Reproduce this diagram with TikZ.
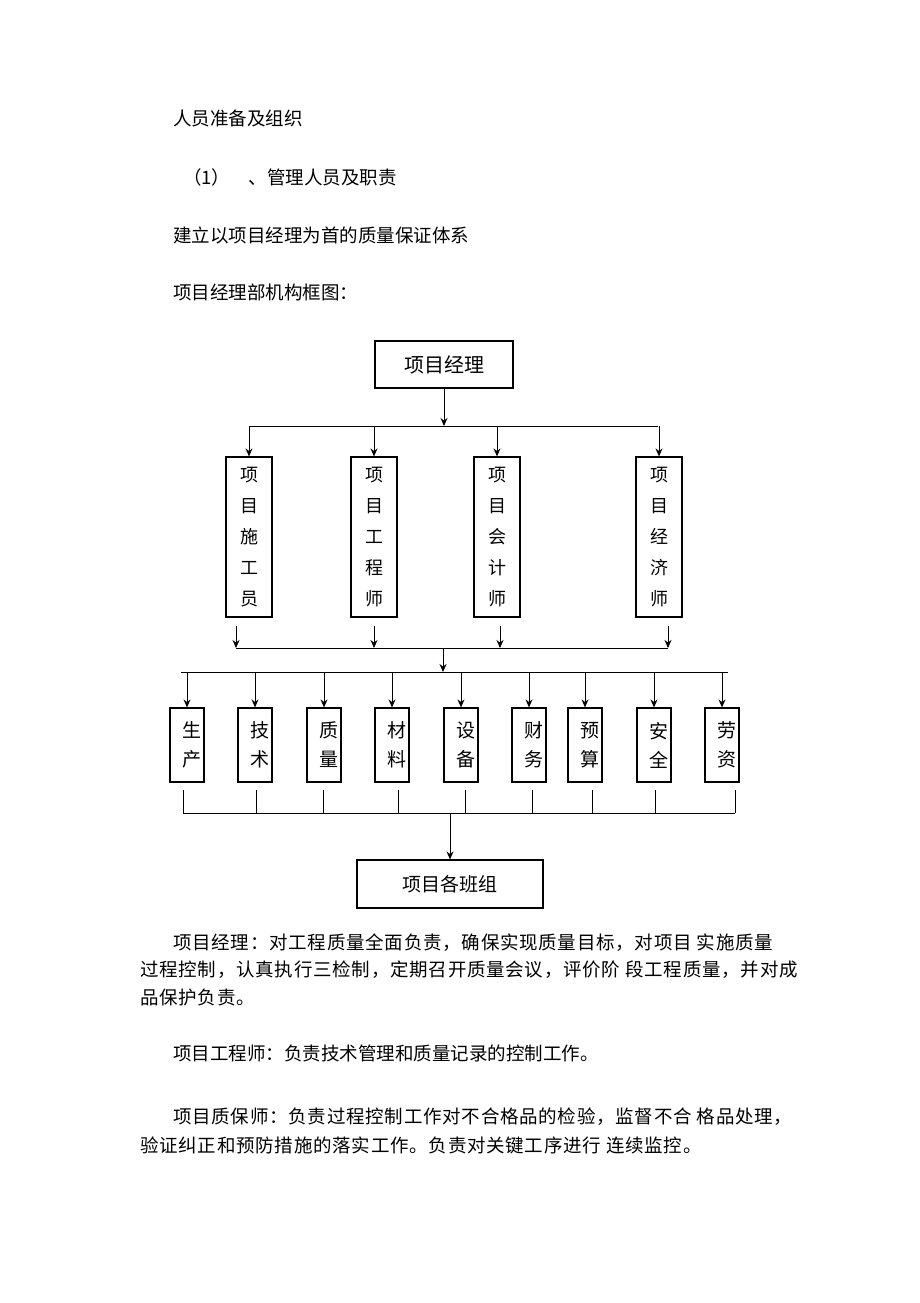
\documentclass[tikz,border=0pt]{standalone}
\usepackage{fontspec}
\setmainfont{Noto Sans CJK SC}
\newfontfamily\spaced[LetterSpace=4]{Noto Sans CJK SC}
\usetikzlibrary{arrows.meta}
\begin{document}
\begin{tikzpicture}[x=1pt,y=-1pt,
  box/.style={draw,line width=1.2pt,inner sep=0pt},
  con/.style={line width=1pt},
  arr/.style={con,-{Stealth[length=8pt,width=7pt]}},
  txt/.style={anchor=west,inner sep=0pt,font=\fontsize{18.5}{18.5}\selectfont},
  ptxt/.style={anchor=west,inner sep=0pt,font=\spaced\fontsize{18.5}{18.5}\selectfont},
  btxt/.style={font=\fontsize{18}{24}\selectfont,align=center}]
\useasboundingbox (0,0) rectangle (920,1303);
\node[txt] (t1) at (173,118) {人员准备及组织};
\node[txt] (t2) at (183,177) {（1）\quad 、管理人员及职责};
\node[txt] (t3) at (173,235) {建立以项目经理为首的质量保证体系};
\node[txt] (t4) at (173,292) {项目经理部机构框图：};
% top
\node[box,minimum width=138pt,minimum height=47pt,font=\fontsize{20}{20}\selectfont] (pm) at (444,364.5) {项目经理};
\coordinate (b1) at (444,426);
\draw[con] (250,426) -- (658,426);
\draw[arr] (pm.south) -- (b1);
\foreach \n/\x/\t in {a/249/项\\目\\施\\工\\员, b/374/项\\目\\工\\程\\师, c/497/项\\目\\会\\计\\师, d/659/项\\目\\经\\济\\师}{
  \node[box,minimum width=46pt,minimum height=160pt,btxt,font=\fontsize{18}{31}\selectfont] (\n) at (\x,537) {\t};
  \draw[arr] (\x,426) -- (\n.north);
}
\foreach \n/\x in {a/236,b/374,c/500,d/668}{
  \coordinate (\n u) at (\x,626);
  \draw[arr] (\n u) -- (\x,648);
}
\draw[con] (236,648) -- (668,648);
\coordinate (m1) at (443,648);
\coordinate (m2) at (443,672);
\draw[arr] (m1) -- (m2);
\draw[con] (181,672) -- (728,672);
\foreach \n/\x/\lx/\t in {p1/187/183/生\\产, p2/255/256/技\\术, p3/324/323/质\\量, p4/392/398/材\\料, p5/461/465/设\\备, p6/529/532/财\\务, p7/585/592/预\\算, p8/654/655/安\\全, p9/722/735/劳\\资}{
  \node[box,minimum width=34pt,minimum height=74pt] (\n) at (\x,745) {};
  \node[btxt,font=\fontsize{19}{29}\selectfont,anchor=center] (\n t) at ([xshift=5pt]\n.center) {\t};
  \draw[arr] (\n.north |- 0,672) -- (\n.north);
  \coordinate (\n b) at (\lx,790);
  \draw[con] (\n b) -- (\lx,813);
}
\draw[con] (183,813) -- (735,813);
\node[box,minimum width=186pt,minimum height=48pt,font=\fontsize{19}{19}\selectfont] (bz) at (450,884) {项目各班组};
\coordinate (m3) at (450,813);
\draw[arr] (m3) -- (bz.north);
% paragraphs
\node[ptxt] (p1a) at (173,943) {项目经理：对工程质量全面负责，确保实现质量目标，对项目 实施质量};
\node[ptxt] (p1b) at (140,970) {过程控制，认真执行三检制，定期召开质量会议，评价阶 段工程质量，并对成};
\node[ptxt] (p1c) at (140,997) {品保护负责。};
\node[txt] (p2a) at (173,1053) {项目工程师：负责技术管理和质量记录的控制工作。};
\node[ptxt] (p3a) at (173,1117) {项目质保师：负责过程控制工作对不合格品的检验，监督不合 格品处理，};
\node[ptxt] (p3b) at (140,1145) {验证纠正和预防措施的落实工作。负责对关键工序进行 连续监控。};
\end{tikzpicture}
\end{document}
